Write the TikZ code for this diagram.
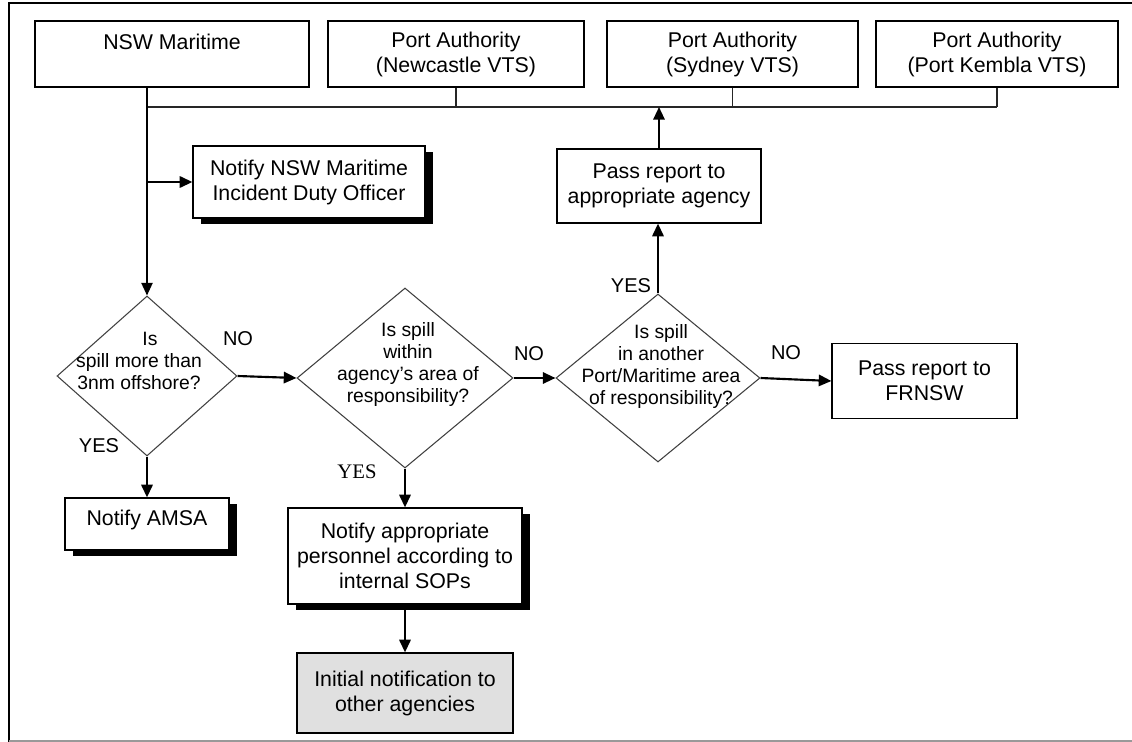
\documentclass[tikz,border=0pt]{standalone}
\usepackage{fontspec}
\setmainfont{Liberation Sans}
\newfontfamily\timesf{Liberation Serif}
\usetikzlibrary{shapes.geometric,arrows.meta,shadows}
\begin{document}
\begin{tikzpicture}[x=0.75pt,y=-0.75pt,
  wh/.style 2 args={minimum width=#1*0.75pt, minimum height=#2*0.75pt},
  box/.style={draw=black, line width=0.9pt, fill=white, rectangle, inner sep=0pt, align=center, font=\fontsize{16}{18.75}\selectfont},
  shadowed/.style={general shadow={fill=black, shadow xshift=6pt, shadow yshift=-4.5pt}},
  dia/.style={draw=black!75, line width=0.8pt, diamond, inner sep=0pt},
  dtext/.style={align=center, inner sep=0pt, font=\fontsize{14.5}{16.5}\selectfont},
  lbl/.style={inner sep=0pt, font=\fontsize{15}{18}\selectfont},
  arr/.style={line width=1.6pt, -{Triangle[length=9.5pt,width=8.5pt]}},
  busline/.style={line width=0.8pt, draw=black!85},
]
\useasboundingbox (0,0) rectangle (1132,742);
% frame
\draw[line width=1.5pt] (9,742) -- (9,3) -- (1132,3);
\draw[line width=1pt, draw=black!40] (9,741) -- (1132,741);

% top boxes
\node[box, wh={274}{66}] (nsw) at (172,54) {NSW Maritime\\\mbox{}};
\node[box, wh={256}{66}] (nc)  at (456,54) {Port Authority\\(Newcastle VTS)};
\node[box, wh={251}{66}] (syd) at (732.5,54) {Port Authority\\(Sydney VTS)};
\node[box, wh={242}{66}] (kem) at (997,54) {Port Authority\\(Port Kembla VTS)};

\node[box, shadowed, wh={232}{72}] (nmio) at (309,182) {Notify NSW Maritime\\Incident Duty Officer};
\node[box, wh={204}{74}] (pa) at (659,186) {Pass report to\\appropriate agency};

% diamonds
\node[dia, wh={180}{160}] (d1) at (147,376) {};
\node[dia, wh={216}{180}] (d2) at (405,378) {};
\node[dia, wh={204}{168}] (d3) at (658,378) {};
\node[dtext] (t1) at (139,361) {\hspace*{16.5pt}Is\\spill more than\\3nm offshore?};
\node[dtext] (t2) at (408,364) {Is spill\\within\\agency's area of\\responsibility?};
\node[dtext] (t3) at (661,366) {Is spill\\in another\\Port/Maritime area\\of responsibility?};

\node[box, wh={185}{75}] (fr) at (924.5,381) {Pass report to\\FRNSW};
\node[box, shadowed, wh={164}{52}, text height=2.3pt, text depth=0pt] (amsa) at (147,524) {Notify AMSA};
\node[box, shadowed, wh={234}{96}] (nap) at (405,556) {Notify appropriate\\personnel according to\\internal SOPs};
\node[box, fill=black!12, wh={216}{80}] (init) at (405,693) {Initial notification to\\other agencies};

% labels
\node[lbl] (no1) at (238,339) {NO};
\node[lbl] (no2) at (529,354) {NO};
\node[lbl] (no3) at (786,353) {NO};
\node[lbl] (yes1) at (99,446) {YES};
\node[lbl, font=\timesf\fontsize{15.5}{18}\selectfont] (yes2) at (357,472) {YES};
\node[lbl] (yes3) at (631,286) {YES};

% bus
\coordinate (bus) at (147,107);
\draw[busline] (bus) -- (bus -| kem.south);
\draw[busline] (nc.south) -- (nc.south |- bus);
\draw[busline] (syd.south) -- (syd.south |- bus);
\draw[busline] (kem.south) -- (kem.south |- bus);

% connectors
\draw[arr, line width=1.1pt] (d1.north |- nsw.south) -- (d1.north);
\draw[arr] (d1.north |- nmio.west) -- (nmio.west);
\draw[arr] (pa.north) -- (pa.north |- bus);
\draw[arr] (d3.north) -- (d3.north |- pa.south);
\draw[arr] (d1.east) -- (d2.west);
\draw[arr] (d2.east) -- (d3.west);
\draw[arr] (d3.east) -- (fr.west);
\draw[arr] (d1.south) -- (amsa.north);
\draw[arr] (d2.south) -- (nap.north);
\draw[arr] (nap.south) -- (init.north);
\end{tikzpicture}
\end{document}
